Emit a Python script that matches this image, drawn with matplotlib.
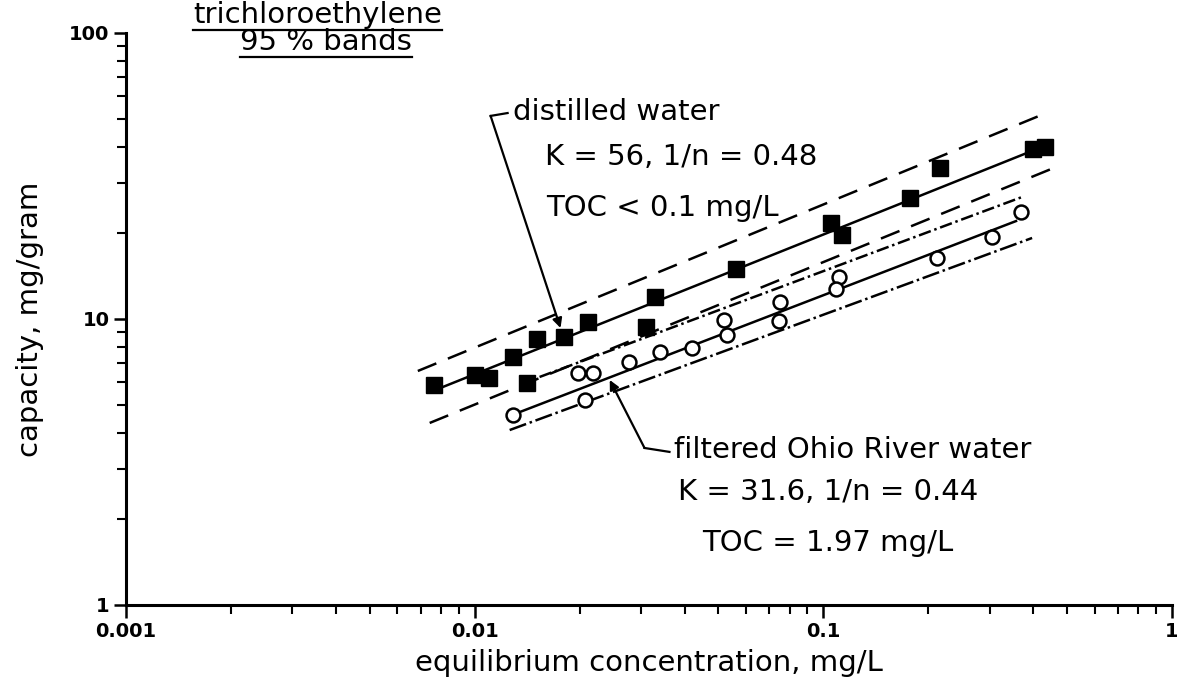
import numpy as np
import matplotlib
matplotlib.use("Agg")
import matplotlib.pyplot as plt
from matplotlib.lines import Line2D
from matplotlib.ticker import FixedLocator, FixedFormatter, NullFormatter, LogLocator

plt.rcParams['font.family'] = ['DejaVu Sans']

# distilled water (filled squares)
dist_x = [0.00767, 0.0100, 0.01096, 0.01285, 0.01409, 0.01506, 0.01799, 0.02108, 0.0311,
          0.0328, 0.0563, 0.1054, 0.1133, 0.1775, 0.2163, 0.400, 0.433]
dist_y = [5.88, 6.37, 6.22, 7.36, 5.97, 8.51, 8.65, 9.76, 9.38,
          11.9, 14.96, 21.7, 19.7, 26.5, 33.7, 39.3, 39.9]

# filtered Ohio River water (open circles)
ohio_x = [0.01285, 0.02066, 0.01973, 0.02178, 0.0278, 0.0339, 0.0419, 0.0520,
          0.0531, 0.0753, 0.0748, 0.1112, 0.1089, 0.2122, 0.305, 0.369]
ohio_y = [4.62, 5.21, 6.48, 6.48, 7.07, 7.67, 7.92, 9.92,
          8.79, 11.5, 9.84, 14.0, 12.7, 16.3, 19.4, 23.7]

# fitted isotherms and 95 % bands (end points)
dist_fit_x, dist_fit_y = [0.00809, 0.416], [5.78, 39.6]
dist_hi_x, dist_hi_y = [0.00687, 0.4355], [6.58, 52.5]
dist_lo_x, dist_lo_y = [0.00743, 0.465], [4.33, 34.0]
ohio_fit_x, ohio_fit_y = [0.0130, 0.357], [4.65, 22.0]
ohio_hi_x, ohio_hi_y = [0.01535, 0.3715], [6.27, 26.7]
ohio_lo_x, ohio_lo_y = [0.0126, 0.397], [4.09, 19.2]

# leader lines
dist_lead_x, dist_lead_y = [0.01243, 0.01111, 0.01763], [52.5, 51.3, 9.30]
ohio_lead_x, ohio_lead_y = [0.0362, 0.0307, 0.0244], [3.43, 3.54, 6.12]

xticks = [0.001, 0.01, 0.1, 1]
xticklabels = ['0.001', '0.01', '0.1', '1']
yticks = [1, 10, 100]
yticklabels = ['1', '10', '100']

fig = plt.figure(figsize=(11.77, 6.91), dpi=100)
ax = fig.add_axes([126 / 1177, 1 - 605 / 691, 1046 / 1177, 572 / 691])
ax.set_xscale('log')
ax.set_yscale('log')
ax.set_xlim(0.001, 1)
ax.set_ylim(1, 100)

lw = 1.8
ax.plot(dist_hi_x, dist_hi_y, color='k', lw=lw, ls=(0, (8, 5)))
ax.plot(dist_fit_x, dist_fit_y, color='k', lw=lw)
ax.plot(dist_lo_x, dist_lo_y, color='k', lw=lw, ls=(0, (8, 5)))
ax.plot(ohio_hi_x, ohio_hi_y, color='k', lw=lw, ls=(0, (5, 1.5, 1, 1.5)))
ax.plot(ohio_fit_x, ohio_fit_y, color='k', lw=lw)
ax.plot(ohio_lo_x, ohio_lo_y, color='k', lw=lw, ls=(0, (7, 1.5, 1, 1.5)))

ax.plot(dist_x, dist_y, ls='none', marker='s', ms=11, color='k', zorder=5)
ax.plot(ohio_x, ohio_y, ls='none', marker='o', ms=10, mfc='white', mec='k', mew=1.8, zorder=5)

# leaders with arrowheads
ax.plot(dist_lead_x[:2], dist_lead_y[:2], color='k', lw=1.6)
ax.annotate('', xy=(dist_lead_x[2], dist_lead_y[2]), xytext=(dist_lead_x[1], dist_lead_y[1]),
            arrowprops=dict(arrowstyle='-|>', color='k', lw=1.6, mutation_scale=14, shrinkA=0, shrinkB=0))
ax.plot(ohio_lead_x[:2], ohio_lead_y[:2], color='k', lw=1.6)
ax.annotate('', xy=(ohio_lead_x[2], ohio_lead_y[2]), xytext=(ohio_lead_x[1], ohio_lead_y[1]),
            arrowprops=dict(arrowstyle='-|>', color='k', lw=1.6, mutation_scale=14, shrinkA=0, shrinkB=0))

fs = 21
ax.text(0.01285, 52.9, 'distilled water', fontsize=fs, va='center')
ax.text(0.01587, 36.8, 'K = 56, 1/n = 0.48', fontsize=fs, va='center')
ax.text(0.01608, 24.4, 'TOC < 0.1 mg/L', fontsize=fs, va='center')
ax.text(0.0374, 3.48, 'filtered Ohio River water', fontsize=fs, va='center')
ax.text(0.0382, 2.48, 'K = 31.6, 1/n = 0.44', fontsize=fs, va='center')
ax.text(0.0450, 1.65, 'TOC = 1.97 mg/L', fontsize=fs, va='center')

t1 = fig.text(193 / 1177, 1 - 15 / 691, 'trichloroethylene', fontsize=fs, va='center')
t2 = fig.text(240 / 1177, 1 - 42 / 691, '95 % bands', fontsize=fs, va='center')

# axes look
for s in ['top', 'right']:
    ax.spines[s].set_visible(False)
for s in ['left', 'bottom']:
    ax.spines[s].set_linewidth(2.2)

ax.xaxis.set_major_locator(FixedLocator(xticks))
ax.xaxis.set_major_formatter(FixedFormatter(xticklabels))
ax.yaxis.set_major_locator(FixedLocator(yticks))
ax.yaxis.set_major_formatter(FixedFormatter(yticklabels))
ax.xaxis.set_minor_locator(LogLocator(base=10, subs=np.arange(2, 10)))
ax.yaxis.set_minor_locator(LogLocator(base=10, subs=np.arange(2, 10)))
ax.xaxis.set_minor_formatter(NullFormatter())
ax.yaxis.set_minor_formatter(NullFormatter())
ax.tick_params(which='major', direction='out', length=9, width=1.8, labelsize=14, pad=3)
ax.tick_params(which='minor', direction='out', length=6.5, width=1.5)
for lbl in ax.get_xticklabels() + ax.get_yticklabels():
    lbl.set_fontweight('bold')

ax.set_xlabel('equilibrium concentration, mg/L', fontsize=fs, labelpad=6)
ax.set_ylabel('capacity, mg/gram', fontsize=fs, labelpad=18)

# underline the two header lines
fig.canvas.draw()
r = fig.canvas.get_renderer()
for t in [t1, t2]:
    bb = t.get_window_extent(r).transformed(fig.transFigure.inverted())
    fig.add_artist(Line2D([bb.x0, bb.x1], [bb.y0 - 0.002] * 2, transform=fig.transFigure,
                          color='k', lw=1.6))

fig.savefig('out.png', dpi=100)
